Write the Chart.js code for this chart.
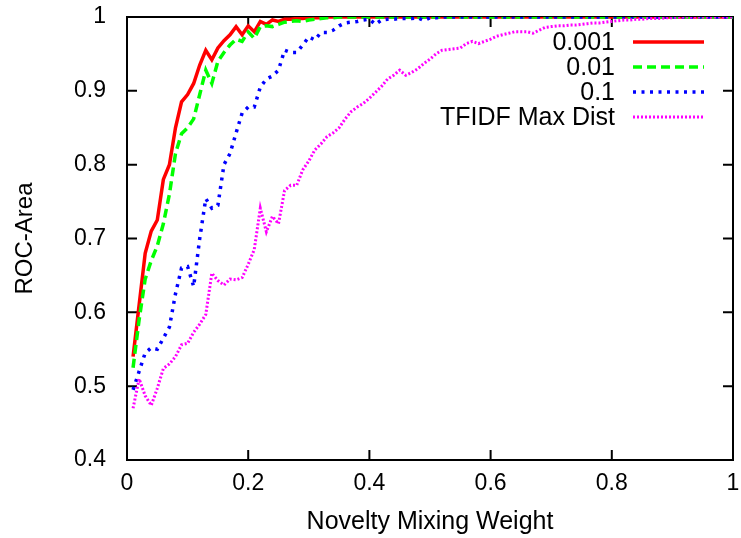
<!DOCTYPE html>
<html>
<head>
<meta charset="utf-8">
<script src="https://cdn.jsdelivr.net/npm/chart.js@4/dist/chart.umd.min.js"></script>
<style>
  html, body { margin: 0; padding: 0; background: #fff; }
  #wrap { width: 741px; height: 538px; }
</style>
</head>
<body>
<div id="wrap"><canvas id="chart"></canvas></div>
<script>
// x values (mixing weight)
const weights = [
  0.01,0.02,0.03,0.04,0.05,0.06,0.07,0.08,0.09,0.10,
  0.11,0.12,0.13,0.14,0.15,0.16,0.17,0.18,0.19,0.20,
  0.21,0.22,0.23,0.24,0.25,0.26,0.27,0.28,0.29,0.30,
  0.31,0.32,0.33,0.34,0.35,0.36,0.37,0.38,0.39,0.40,
  0.41,0.42,0.43,0.44,0.45,0.46,0.47,0.48,0.49,0.50,
  0.51,0.52,0.53,0.54,0.55,0.56,0.57,0.58,0.59,0.60,
  0.61,0.62,0.63,0.64,0.65,0.66,0.67,0.68,0.69,0.70,
  0.71,0.72,0.73,0.74,0.75,0.76,0.77,0.78,0.79,0.80,
  0.81,0.82,0.83,0.84,0.85,0.86,0.87,0.88,0.89,0.90,
  0.91,0.92,0.93,0.94,0.95,0.96,0.97,0.98,0.99,1.00
];

const roc001 = [
  0.54,0.61,0.68,0.71,0.725,0.78,0.80,0.85,0.885,0.895,
  0.91,0.935,0.955,0.942,0.958,0.968,0.976,0.987,0.976,0.988,
  0.98,0.994,0.99,0.996,0.994,0.997,0.997,0.998,0.998,0.999,
  0.999,0.999,1,1,1,1,1,1,1,1,
  1,1,1,1,1,1,1,1,1,1,
  1,1,1,1,1,1,1,1,1,1,
  1,1,1,1,1,1,1,1,1,1,
  1,1,1,1,1,1,1,1,1,1,
  1,1,1,1,1,1,1,1,1,1,
  1,1,1,1,1,1,1,1,1,1
];

const roc01 = [
  0.525,0.59,0.645,0.67,0.69,0.72,0.76,0.815,0.842,0.85,
  0.862,0.895,0.928,0.91,0.94,0.952,0.962,0.97,0.967,0.98,
  0.971,0.987,0.988,0.987,0.99,0.993,0.994,0.995,0.994,0.996,
  0.997,0.998,0.999,0.999,1,1,1,1,1,1,
  1,1,1,1,1,1,1,1,1,1,
  1,1,1,1,1,1,1,1,1,1,
  1,1,1,1,1,1,1,1,1,1,
  1,1,1,1,1,1,1,1,1,1,
  1,1,1,1,1,1,1,1,1,1,
  1,1,1,1,1,1,1,1,1,1
];

const roc1 = [
  0.495,0.52,0.545,0.552,0.55,0.565,0.58,0.625,0.66,0.662,
  0.635,0.70,0.754,0.741,0.745,0.80,0.815,0.843,0.87,0.878,
  0.878,0.905,0.916,0.92,0.928,0.955,0.952,0.952,0.962,0.973,
  0.969,0.979,0.979,0.982,0.988,0.992,0.993,0.994,0.996,0.997,
  0.99,0.996,0.997,0.997,0.998,0.998,0.998,0.999,0.995,0.999,
  0.999,1,1,1,1,1,1,1,1,1,
  1,1,1,1,1,1,1,1,1,1,
  1,1,1,1,1,1,1,1,1,1,
  1,1,1,1,1,1,1,1,1,1,
  1,1,1,1,1,1,1,1,1,1
];

const rocTfidf = [
  0.47,0.51,0.487,0.474,0.497,0.524,0.53,0.54,0.556,0.558,
  0.573,0.584,0.597,0.653,0.643,0.637,0.645,0.644,0.647,0.665,
  0.685,0.741,0.709,0.73,0.72,0.765,0.772,0.772,0.793,0.805,
  0.82,0.828,0.838,0.843,0.85,0.862,0.872,0.878,0.883,0.89,
  0.898,0.906,0.916,0.921,0.928,0.921,0.925,0.93,0.937,0.943,
  0.95,0.955,0.956,0.957,0.958,0.964,0.967,0.964,0.967,0.97,
  0.974,0.976,0.978,0.98,0.98,0.98,0.978,0.982,0.986,0.987,
  0.988,0.988,0.989,0.989,0.99,0.991,0.992,0.992,0.993,0.994,
  0.995,0.996,0.996,0.997,0.997,0.998,0.998,0.998,0.999,0.999,
  1,1,1,1,1,1,1,1,1,1
];

const xTicks = [0, 0.2, 0.4, 0.6, 0.8, 1];
const yTicks = [0.4, 0.5, 0.6, 0.7, 0.8, 0.9, 1];

const FONT = 'Liberation Sans, Arial, sans-serif';
const FSIZE = 23;

function pts(ys) {
  return weights.map((w, i) => ({ x: w, y: ys[i] }));
}

// gnuplot style frame with inward ticks (mirrored)
const frame = {
  id: 'frame',
  beforeDatasetsDraw(chart) {
    const { ctx, chartArea: a, scales } = chart;
    ctx.save();
    ctx.strokeStyle = '#000';
    ctx.lineWidth = 2;
    ctx.strokeRect(a.left, a.top, a.right - a.left, a.bottom - a.top);
    const len = 10;
    ctx.beginPath();
    xTicks.forEach(v => {
      const px = scales.x.getPixelForValue(v);
      ctx.moveTo(px, a.bottom); ctx.lineTo(px, a.bottom - len);
      ctx.moveTo(px, a.top); ctx.lineTo(px, a.top + len);
    });
    yTicks.forEach(v => {
      const py = scales.y.getPixelForValue(v);
      ctx.moveTo(a.left, py); ctx.lineTo(a.left + len, py);
      ctx.moveTo(a.right, py); ctx.lineTo(a.right - len, py);
    });
    ctx.stroke();
    ctx.restore();
  }
};

// legend inside the plot: text right aligned, line sample on the right
const keyBox = {
  id: 'keyBox',
  afterDraw(chart) {
    const { ctx } = chart;
    ctx.save();
    ctx.font = '25px ' + FONT;
    ctx.textAlign = 'right';
    ctx.textBaseline = 'middle';
    chart.data.datasets.forEach((ds, i) => {
      const y = 42 + i * 25;
      ctx.fillStyle = '#000';
      ctx.fillText(ds.label, 615, y + 1);
      ctx.strokeStyle = ds.borderColor;
      ctx.lineWidth = ds.borderWidth;
      ctx.setLineDash(ds.borderDash || []);
      ctx.beginPath();
      ctx.moveTo(633, y);
      ctx.lineTo(704, y);
      ctx.stroke();
    });
    ctx.restore();
  }
};

const ctx = document.getElementById('chart').getContext('2d');
const myChart = new Chart(ctx, {
  type: 'line',
  data: {
    datasets: [
      { label: '0.001', data: pts(roc001), borderColor: '#ff0000', borderWidth: 3.5, order: 4 },
      { label: '0.01', data: pts(roc01), borderColor: '#00ff00', borderWidth: 3.5, borderDash: [9, 5], order: 3 },
      { label: '0.1', data: pts(roc1), borderColor: '#0000ff', borderWidth: 3.5, borderDash: [3, 5.5], order: 2 },
      { label: 'TFIDF Max Dist', data: pts(rocTfidf), borderColor: '#ff00ff', borderWidth: 3, borderDash: [2, 2], order: 1 }
    ]
  },
  options: {
    responsive: true,
    maintainAspectRatio: false,
    animation: false,
    events: [],
    layout: { padding: { left: 0, right: 8, top: 17, bottom: 0 } },
    elements: { point: { radius: 0 }, line: { tension: 0, borderCapStyle: 'butt' } },
    plugins: { legend: { display: false }, tooltip: { enabled: false } },
    scales: {
      x: {
        type: 'linear', min: 0, max: 1,
        afterBuildTicks: s => { s.ticks = xTicks.map(v => ({ value: v })); },
        afterFit: s => { s.height = 78; s.paddingLeft = 0; s.paddingRight = 0; },
        grid: { display: false, drawTicks: false },
        border: { display: false },
        ticks: { color: '#000', padding: 10, font: { family: FONT, size: FSIZE }, maxRotation: 0,
                 callback: v => String(v) },
        title: { display: true, text: 'Novelty Mixing Weight', color: '#000',
                 font: { family: FONT, size: 25 }, padding: { top: 0, bottom: 1 } }
      },
      y: {
        min: 0.4, max: 1,
        afterBuildTicks: s => { s.ticks = yTicks.map(v => ({ value: v })); },
        afterFit: s => { s.width = 127; s.paddingTop = 0; s.paddingBottom = 0; },
        grid: { display: false, drawTicks: false },
        border: { display: false },
        ticks: { color: '#000', padding: 21, font: { family: FONT, size: FSIZE },
                 callback: v => String(v) },
        title: { display: true, text: 'ROC-Area', color: '#000',
                 font: { family: FONT, size: 24 }, padding: { top: 11, bottom: 0 } }
      }
    }
  },
  plugins: [frame, keyBox]
});
</script>
</body>
</html>
